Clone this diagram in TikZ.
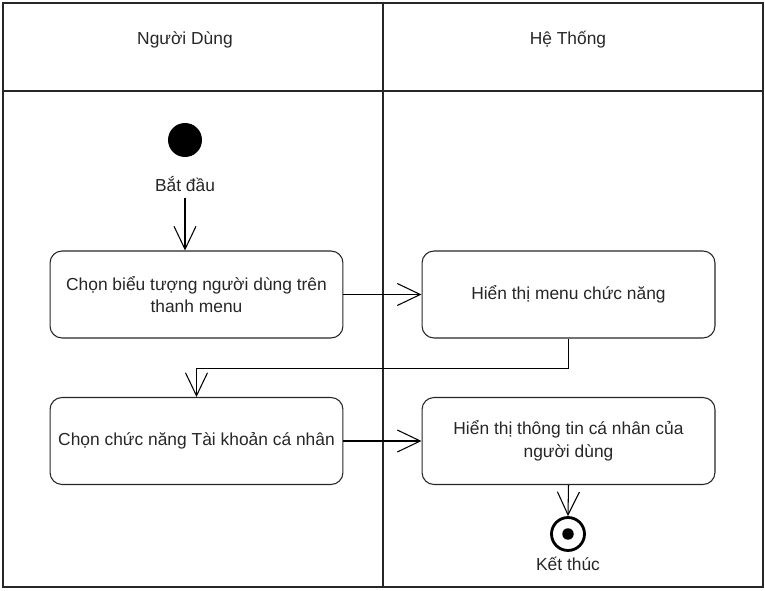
\documentclass[tikz,border=0pt]{standalone}
\usepackage{fontspec}
\setmainfont{Liberation Sans}
\usetikzlibrary{arrows.meta}
\usetikzlibrary{positioning}

\begin{document}
\begin{tikzpicture}[x=0.02cm,y=-0.02cm,
  every node/.style={font=\fontsize{9.9}{13}\selectfont,text=black!85},
  lane/.style={draw=black!85,line width=0.7pt},
  act/.style={draw=black!85,line width=0.6pt,rounded corners=0.24cm,minimum width=5.86cm,minimum height=1.74cm,align=center,inner sep=2pt},
  flow/.style={draw=black,line width=0.6pt,-{Straight Barb[length=0.46cm,width=0.44cm,line width=0.6pt]}}]
\useasboundingbox (0,0) rectangle (765,591);

% swimlanes
\draw[lane] (3,3) rectangle (763,587);
\draw[lane] (383,3) -- (383,587);
\draw[lane] (3,91) -- (763,91);
\node[anchor=center] (H1) at (185,40) {Người Dùng};
\node[anchor=center] (H2) at (568,40) {Hệ Thống};

% start / end
\node[circle,fill=black,minimum size=0.68cm,inner sep=0pt] (S) at (185,140) {};
\node[anchor=center] (Slbl) at (185,184) {Bắt đầu};
\node[circle,draw=black,line width=1.6pt,minimum size=0.66cm,inner sep=0pt] (E) at (568,534) {};
\node[circle,fill=black,minimum size=0.23cm,inner sep=0pt] (Edot) at (E) {};
\node[anchor=center] (Elbl) at (568,564) {Kết thúc};

% actions
\node[act] (A1) at (196.5,294.5) {Chọn biểu tượng người dùng trên\\thanh menu};
\node[act] (B1) at (568.5,294.5) {Hiển thị menu chức năng};
\node[act] (A2) at (196.5,441) {Chọn chức năng Tài khoản cá nhân};
\node[act] (B2) at (568.5,441) {Hiển thị thông tin cá nhân của\\người dùng};

\draw[flow] (Slbl.south) -- (Slbl.south |- A1.north);
\draw[flow] (A1.east) -- (B1.west);
\draw[flow] (B1.south) -- ++(0,30) -| (A2.north);
\draw[flow] (A2.east) -- (B2.west);
\draw[flow] (B2.south) -- (E.north);

\end{tikzpicture}
\end{document}
